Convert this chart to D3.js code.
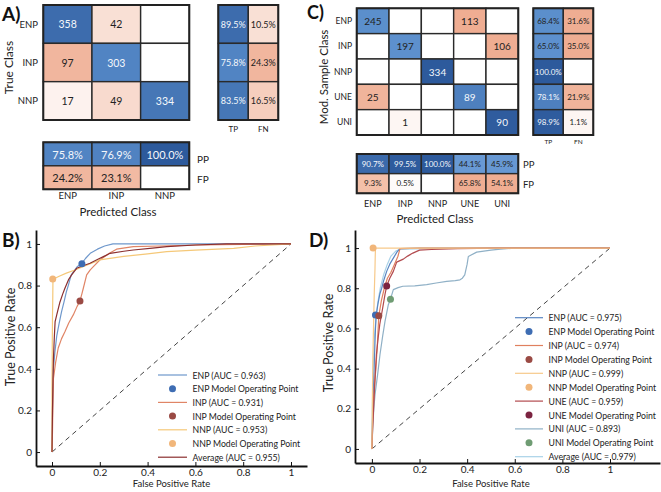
<!DOCTYPE html>
<html><head><meta charset="utf-8">
<script src="https://cdn.jsdelivr.net/npm/d3@7"></script>
<style>
html,body{margin:0;padding:0;background:#fff;}
svg{display:block;font-family:Lato,"Open Sans",sans-serif;}
</style></head><body>
<svg id="chart" width="661" height="492"></svg>
<script>
// ---------------- DATA ----------------
const classesA = ["ENP", "INP", "NNP"];
const countsA = [[358, 42, 0], [97, 303, 0], [17, 49, 334]];
const tpA = [89.5, 75.8, 83.5];
const fnA = [10.5, 24.3, 16.5];
const ppA = [75.8, 76.9, 100.0];
const fpA = [24.2, 23.1, 0];

const classesC = ["ENP", "INP", "NNP", "UNE", "UNI"];
const countsC = [[245, 0, 0, 113, 0], [0, 197, 0, 0, 106], [0, 0, 334, 0, 0], [25, 0, 0, 89, 0], [0, 1, 0, 0, 90]];
const tpC = [68.4, 65.0, 100.0, 78.1, 98.9];
const fnC = [31.6, 35.0, 0, 21.9, 1.1];
const ppC = [90.7, 99.5, 100.0, 44.1, 45.9];
const fpC = [9.3, 0.5, 0, 65.8, 54.1];

const rocTicks = [0, 0.2, 0.4, 0.6, 0.8, 1];

// Panel B ROC curves [FPR, TPR]
const rocB_ENP = [[0,0],[0.002,0.2],[0.004,0.3],[0.006,0.4],[0.012,0.48],[0.02,0.56],[0.03,0.62],[0.04,0.675],[0.05,0.72],[0.06,0.77],[0.068,0.8],[0.08,0.85],[0.09,0.867],[0.105,0.89],[0.125,0.907],[0.14,0.93],[0.16,0.955],[0.19,0.975],[0.22,0.99],[0.255,1],[1,1]];
const rocB_INP = [[0,0],[0.002,0.1],[0.004,0.25],[0.006,0.354],[0.015,0.43],[0.026,0.5],[0.04,0.545],[0.054,0.578],[0.07,0.62],[0.089,0.659],[0.105,0.7],[0.117,0.726],[0.125,0.76],[0.131,0.787],[0.145,0.851],[0.16,0.875],[0.173,0.891],[0.2,0.923],[0.24,0.955],[0.27,0.975],[0.34,0.987],[0.45,0.99],[0.62,0.995],[0.8,0.998],[1,1]];
const rocB_NNP = [[0,0],[0,0.3],[0.001,0.5],[0.002,0.65],[0.003,0.72],[0.004,0.83],[0.03,0.845],[0.06,0.86],[0.096,0.875],[0.15,0.9],[0.2,0.923],[0.3,0.94],[0.4,0.952],[0.48,0.963],[0.6,0.97],[0.76,0.979],[0.85,0.99],[1,1]];
const rocB_AVG = [[0,0],[0.002,0.2],[0.004,0.35],[0.006,0.45],[0.01,0.56],[0.013,0.627],[0.02,0.66],[0.033,0.72],[0.045,0.76],[0.054,0.787],[0.07,0.83],[0.082,0.851],[0.103,0.883],[0.13,0.895],[0.159,0.907],[0.19,0.925],[0.215,0.939],[0.243,0.955],[0.3,0.965],[0.34,0.971],[0.42,0.98],[0.48,0.987],[0.6,0.995],[0.73,1],[1,1]];
const opB = [[0.125, 0.905], [0.117, 0.726], [0.003, 0.832]];
const aucB = [0.963, 0.931, 0.953, 0.955];

// Panel D ROC curves
const rocD_ENP = [[0,0],[0.002,0.12],[0.005,0.25],[0.009,0.387],[0.012,0.5],[0.015,0.6],[0.018,0.665],[0.025,0.72],[0.033,0.77],[0.041,0.8],[0.05,0.84],[0.062,0.884],[0.075,0.92],[0.09,0.95],[0.105,0.98],[0.118,0.997],[0.2,1],[1,1]];
const rocD_INP = [[0,0],[0.003,0.12],[0.005,0.22],[0.01,0.3],[0.016,0.39],[0.022,0.5],[0.029,0.663],[0.04,0.74],[0.052,0.8],[0.065,0.85],[0.08,0.88],[0.095,0.92],[0.109,0.958],[0.118,0.997],[0.2,1],[1,1]];
const rocD_NNP = [[0,0],[0.002,0.25],[0.004,0.45],[0.007,0.62],[0.01,0.78],[0.013,0.9],[0.014,0.96],[0.015,1],[0.3,1],[0.75,1],[1,1]];
const rocD_UNE = [[0,0],[0.003,0.1],[0.008,0.22],[0.013,0.35],[0.019,0.47],[0.026,0.55],[0.033,0.62],[0.045,0.7],[0.055,0.77],[0.062,0.81],[0.075,0.85],[0.09,0.884],[0.104,0.93],[0.132,0.945],[0.15,0.96],[0.172,0.975],[0.2,0.99],[0.25,0.993],[0.36,0.997],[0.53,1],[1,1]];
const rocD_UNI = [[0,0],[0.004,0.12],[0.008,0.2],[0.013,0.27],[0.024,0.37],[0.034,0.47],[0.045,0.56],[0.055,0.635],[0.069,0.718],[0.078,0.746],[0.09,0.793],[0.11,0.803],[0.13,0.81],[0.18,0.812],[0.23,0.818],[0.27,0.826],[0.314,0.834],[0.35,0.838],[0.37,0.842],[0.38,0.85],[0.39,0.867],[0.4,0.92],[0.405,0.958],[0.44,0.98],[0.5,0.99],[0.54,0.995],[0.6,1],[1,1]];
const rocD_AVG = [[0,0],[0.002,0.2],[0.005,0.4],[0.01,0.55],[0.017,0.65],[0.025,0.73],[0.035,0.8],[0.05,0.87],[0.065,0.92],[0.08,0.96],[0.1,0.985],[0.12,0.995],[0.3,0.998],[0.5,1],[1,1]];
const opD = [[0.015, 0.667], [0.029, 0.663], [0.005, 1.0], [0.062, 0.811], [0.078, 0.745]];
const aucD = [0.975, 0.974, 0.999, 0.959, 0.893, 0.979];

// ---------------- DRAW ----------------
const svg = d3.select("#chart");
const FONT = 'Lato,"Open Sans",sans-serif';

const blue = d3.scaleLinear().domain([0.4, 0.7, 1]).range(["#6a9bd5", "#5a8ecc", "#2d5a9c"]).clamp(true);
const salmonA = d3.scaleLinear().domain([0, 0.25]).range(["#ffffff", "#f1b49b"]).clamp(true);
const salmonC = d3.scaleLinear().domain([0, 0.08, 0.3]).range(["#ffffff", "#f3c1aa", "#efad92"]).clamp(true);

function drawCells(rows, cols, xr, yr, cellFn, fontSize) {
  const x = d3.scaleBand().domain(cols).range(xr);
  const y = d3.scaleBand().domain(rows).range(yr);
  const g = svg.append("g");
  const cells = [];
  rows.forEach((r, i) => cols.forEach((c, j) => cells.push(Object.assign({r, c, i, j}, cellFn(i, j)))));
  g.selectAll("rect.cell").data(cells).join("rect")
    .attr("x", d => x(d.c)).attr("y", d => y(d.r))
    .attr("width", x.bandwidth()).attr("height", y.bandwidth())
    .attr("fill", d => d.fill).attr("stroke", "#2a2a2a").attr("stroke-width", 1.4);
  g.selectAll("text").data(cells.filter(d => d.label)).join("text")
    .attr("x", d => x(d.c) + x.bandwidth() / 2).attr("y", d => y(d.r) + y.bandwidth() / 2)
    .attr("text-anchor", "middle").attr("dominant-baseline", "central")
    .attr("font-size", fontSize).attr("fill", d => d.textColor).text(d => d.label);
  g.append("rect").attr("x", xr[0]).attr("y", yr[0]).attr("width", xr[1] - xr[0]).attr("height", yr[1] - yr[0])
    .attr("fill", "none").attr("stroke", "#222").attr("stroke-width", 2);
  return {x, y};
}
function blueCell(frac, label) {
  return {fill: blue(frac), label, textColor: frac >= 0.7 ? "#f4f7fb" : "#222"};
}
function redCell(scale, frac, label) {
  return frac === 0 ? {fill: "#fff", label: null} : {fill: scale(frac), label, textColor: "#222"};
}
const pct = v => d3.format(".1f")(v) + "%";

function text(x, y, s, size, opts = {}) {
  const t = svg.append("text").attr("x", x).attr("y", y).attr("font-size", size)
    .attr("fill", opts.fill || "#222").attr("text-anchor", opts.anchor || "start").text(s);
  if (opts.weight) t.attr("font-weight", opts.weight);
  if (opts.rotate) t.attr("transform", `rotate(-90,${x},${y})`);
  if (opts.baseline) t.attr("dominant-baseline", opts.baseline);
  return t;
}

// ---- Panel A ----
{
  const rowSums = countsA.map(r => d3.sum(r));
  const m = drawCells(classesA, classesA, [43.3, 189.3], [5, 120], (i, j) => {
    const v = countsA[i][j], f = v / rowSums[i];
    if (v === 0) return {fill: "#fff", label: null};
    return i === j ? blueCell(f, String(v)) : redCell(salmonA, f, String(v));
  }, 10.5);
  classesA.forEach(c => text(38, m.y(c) + m.y.bandwidth() / 2, c, 9.5, {anchor: "end", baseline: "central"}));
  text(13, 67.5, "True Class", 12, {anchor: "middle", rotate: true});
  const t = drawCells(classesA, ["TP", "FN"], [218.3, 278.3], [5, 120], (i, j) =>
    j === 0 ? blueCell(tpA[i] / 100, pct(tpA[i])) : redCell(salmonA, fnA[i] / 100, pct(fnA[i])), 9);
  ["TP", "FN"].forEach(c => text(t.x(c) + t.x.bandwidth() / 2, 132, c, 8, {anchor: "middle"}));
  const p = drawCells(["PP", "FP"], classesA, [43.3, 189.3], [142.3, 189.3], (i, j) =>
    i === 0 ? blueCell(ppA[j] / 100, pct(ppA[j])) : redCell(salmonA, fpA[j] / 100, pct(fpA[j])), 11);
  text(197, 159, "PP", 10, {baseline: "central"});
  text(197, 179, "FP", 10, {baseline: "central"});
  classesA.forEach(c => text(p.x(c) + p.x.bandwidth() / 2, 199, c, 9.5, {anchor: "middle"}));
  text(118, 216, "Predicted Class", 11.5, {anchor: "middle"});
  text(2, 21, "A)", 19, {weight: "bold", fill: "#111"});
}

// ---- Panel C ----
{
  const rowSums = countsC.map(r => d3.sum(r));
  const m = drawCells(classesC, classesC, [356.7, 518.3], [8.3, 135], (i, j) => {
    const v = countsC[i][j], f = v / rowSums[i];
    if (v === 0) return {fill: "#fff", label: null};
    return i === j ? blueCell(f, String(v)) : redCell(salmonC, f, String(v));
  }, 10);
  classesC.forEach(c => text(352, m.y(c) + m.y.bandwidth() / 2, c, 8.5, {anchor: "end", baseline: "central"}));
  text(328, 77, "Mod. Sample Class", 11.5, {anchor: "middle", rotate: true});
  const t = drawCells(classesC, ["TP", "FN"], [533.3, 593.3], [8.3, 135], (i, j) =>
    j === 0 ? blueCell(tpC[i] / 100, pct(tpC[i])) : redCell(salmonC, fnC[i] / 100, pct(fnC[i])), 8);
  ["TP", "FN"].forEach(c => text(t.x(c) + t.x.bandwidth() / 2, 144, c, 6.5, {anchor: "middle"}));
  const p = drawCells(["PP", "FP"], classesC, [356.7, 518.3], [154, 193.3], (i, j) =>
    i === 0 ? blueCell(ppC[j] / 100, pct(ppC[j])) : redCell(salmonC, fpC[j] / 100, pct(fpC[j])), 8);
  text(523, 164, "PP", 9.5, {baseline: "central"});
  text(523, 184, "FP", 9.5, {baseline: "central"});
  classesC.forEach(c => text(p.x(c) + p.x.bandwidth() / 2, 207, c, 9, {anchor: "middle"}));
  text(435, 223, "Predicted Class", 11.5, {anchor: "middle"});
  text(307, 19, "C)", 18, {weight: "bold", fill: "#111"});
}

// ---- ROC panels ----
function drawRoc(cfg) {
  const x = d3.scaleLinear().domain(cfg.xd).range(cfg.xr);
  const y = d3.scaleLinear().domain(cfg.yd).range(cfg.yr);
  const g = svg.append("g");
  const fmt = d => d === 0 ? "0" : d === 1 ? "1" : d3.format(".1f")(d);
  const ax = g.append("g").attr("transform", `translate(0,${cfg.yr[0]})`)
    .call(d3.axisBottom(x).tickValues(rocTicks).tickFormat(fmt).tickSizeInner(-4).tickSizeOuter(0).tickPadding(3));
  const ay = g.append("g").attr("transform", `translate(${cfg.xr[0]},0)`)
    .call(d3.axisLeft(y).tickValues(rocTicks).tickFormat(fmt).tickSizeInner(-4).tickSizeOuter(0).tickPadding(4));
  [ax, ay].forEach(a => {
    a.select(".domain").attr("stroke", "#111").attr("stroke-width", 1.8);
    a.selectAll(".tick line").attr("stroke", "#111").attr("stroke-width", 1);
    a.selectAll(".tick text").attr("font-size", 10).attr("fill", "#222").attr("font-family", FONT);
  });
  g.append("line").attr("x1", x(0)).attr("y1", y(0)).attr("x2", x(1)).attr("y2", y(1))
    .attr("stroke", "#444").attr("stroke-width", 1).attr("stroke-dasharray", "5,4");
  const line = d3.line().x(d => x(d[0])).y(d => y(d[1]));
  cfg.curves.forEach(c => g.append("path").datum(c.data).attr("d", line)
    .attr("fill", "none").attr("stroke", c.color).attr("stroke-width", 1.2).attr("stroke-linejoin", "round"));
  cfg.points.forEach(p => g.append("circle").attr("cx", x(p.pt[0])).attr("cy", y(p.pt[1])).attr("r", 3.5).attr("fill", p.color));
  // legend
  cfg.legend.forEach((e, k) => {
    const ly = cfg.ly0 + k * cfg.lstep;
    if (e.type === "line") g.append("line").attr("x1", cfg.lx0).attr("x2", cfg.lx1).attr("y1", ly).attr("y2", ly)
      .attr("stroke", e.color).attr("stroke-width", 1.2);
    else g.append("circle").attr("cx", (cfg.lx0 + cfg.lx1) / 2).attr("cy", ly).attr("r", 3.5).attr("fill", e.color);
    g.append("text").attr("x", cfg.lx1 + 5.5).attr("y", ly).attr("dominant-baseline", "central")
      .attr("font-size", 8.7).attr("fill", "#222").text(e.label);
  });
  text((x(0) + x(1)) / 2, 487, "False Positive Rate", 9.5, {anchor: "middle"});
  text(cfg.ytx, cfg.yty, "True Positive Rate", 12.5, {anchor: "middle", rotate: true});
}

const colB = {ENP: "#6f98cc", INP: "#e08566", NNP: "#f5c878", AVG: "#8b2f2f"};
const dotB = ["#3e6db3", "#9a4a44", "#f1b67a"];
drawRoc({
  xd: [-0.067, 1.067], xr: [36, 307], yd: [-0.067, 1.067], yr: [466, 230],
  curves: [{data: rocB_ENP, color: colB.ENP}, {data: rocB_INP, color: colB.INP}, {data: rocB_NNP, color: colB.NNP}, {data: rocB_AVG, color: colB.AVG}],
  points: opB.map((pt, i) => ({pt, color: dotB[i]})),
  legend: [
    {type: "line", color: colB.ENP, label: `ENP (AUC = ${aucB[0]})`},
    {type: "dot", color: dotB[0], label: "ENP Model Operating Point"},
    {type: "line", color: colB.INP, label: `INP (AUC = ${aucB[1]})`},
    {type: "dot", color: dotB[1], label: "INP Model Operating Point"},
    {type: "line", color: colB.NNP, label: `NNP (AUC = ${aucB[2]})`},
    {type: "dot", color: dotB[2], label: "NNP Model Operating Point"},
    {type: "line", color: colB.AVG, label: `Average (AUC = ${aucB[3]})`}
  ],
  lx0: 158, lx1: 187, ly0: 375, lstep: 13.7,
  ytx: 15, yty: 337
});
text(2, 247, "B)", 19, {weight: "bold", fill: "#111"});

const colD = {ENP: "#5a86c2", INP: "#e0805f", NNP: "#f7c98a", UNE: "#b24a4e", UNI: "#8fb0c6", AVG: "#a9d2e8"};
const dotD = ["#3e6db3", "#9a4a44", "#f1b67a", "#7b2340", "#6f9c73"];
drawRoc({
  xd: [-0.071, 1.21], xr: [355, 660], yd: [-0.07, 1.09], yr: [463, 230],
  curves: [{data: rocD_UNI, color: colD.UNI}, {data: rocD_AVG, color: colD.AVG}, {data: rocD_ENP, color: colD.ENP}, {data: rocD_INP, color: colD.INP}, {data: rocD_UNE, color: colD.UNE}, {data: rocD_NNP, color: colD.NNP}],
  points: opD.map((pt, i) => ({pt, color: dotD[i]})),
  legend: [
    {type: "line", color: colD.ENP, label: `ENP (AUC = ${aucD[0]})`},
    {type: "dot", color: dotD[0], label: "ENP Model Operating Point"},
    {type: "line", color: colD.INP, label: `INP (AUC = ${aucD[1]})`},
    {type: "dot", color: dotD[1], label: "INP Model Operating Point"},
    {type: "line", color: colD.NNP, label: `NNP (AUC = ${aucD[2]})`},
    {type: "dot", color: dotD[2], label: "NNP Model Operating Point"},
    {type: "line", color: colD.UNE, label: `UNE (AUC = ${aucD[3]})`},
    {type: "dot", color: dotD[3], label: "UNE Model Operating Point"},
    {type: "line", color: colD.UNI, label: `UNI (AUC = ${aucD[4]})`},
    {type: "dot", color: dotD[4], label: "UNI Model Operating Point"},
    {type: "line", color: colD.AVG, label: `Average (AUC = ${aucD[5]})`}
  ],
  lx0: 515, lx1: 543, ly0: 317.7, lstep: 13.9,
  ytx: 333, yty: 343
});
text(309, 247, "D)", 19, {weight: "bold", fill: "#111"});
</script></body></html>
